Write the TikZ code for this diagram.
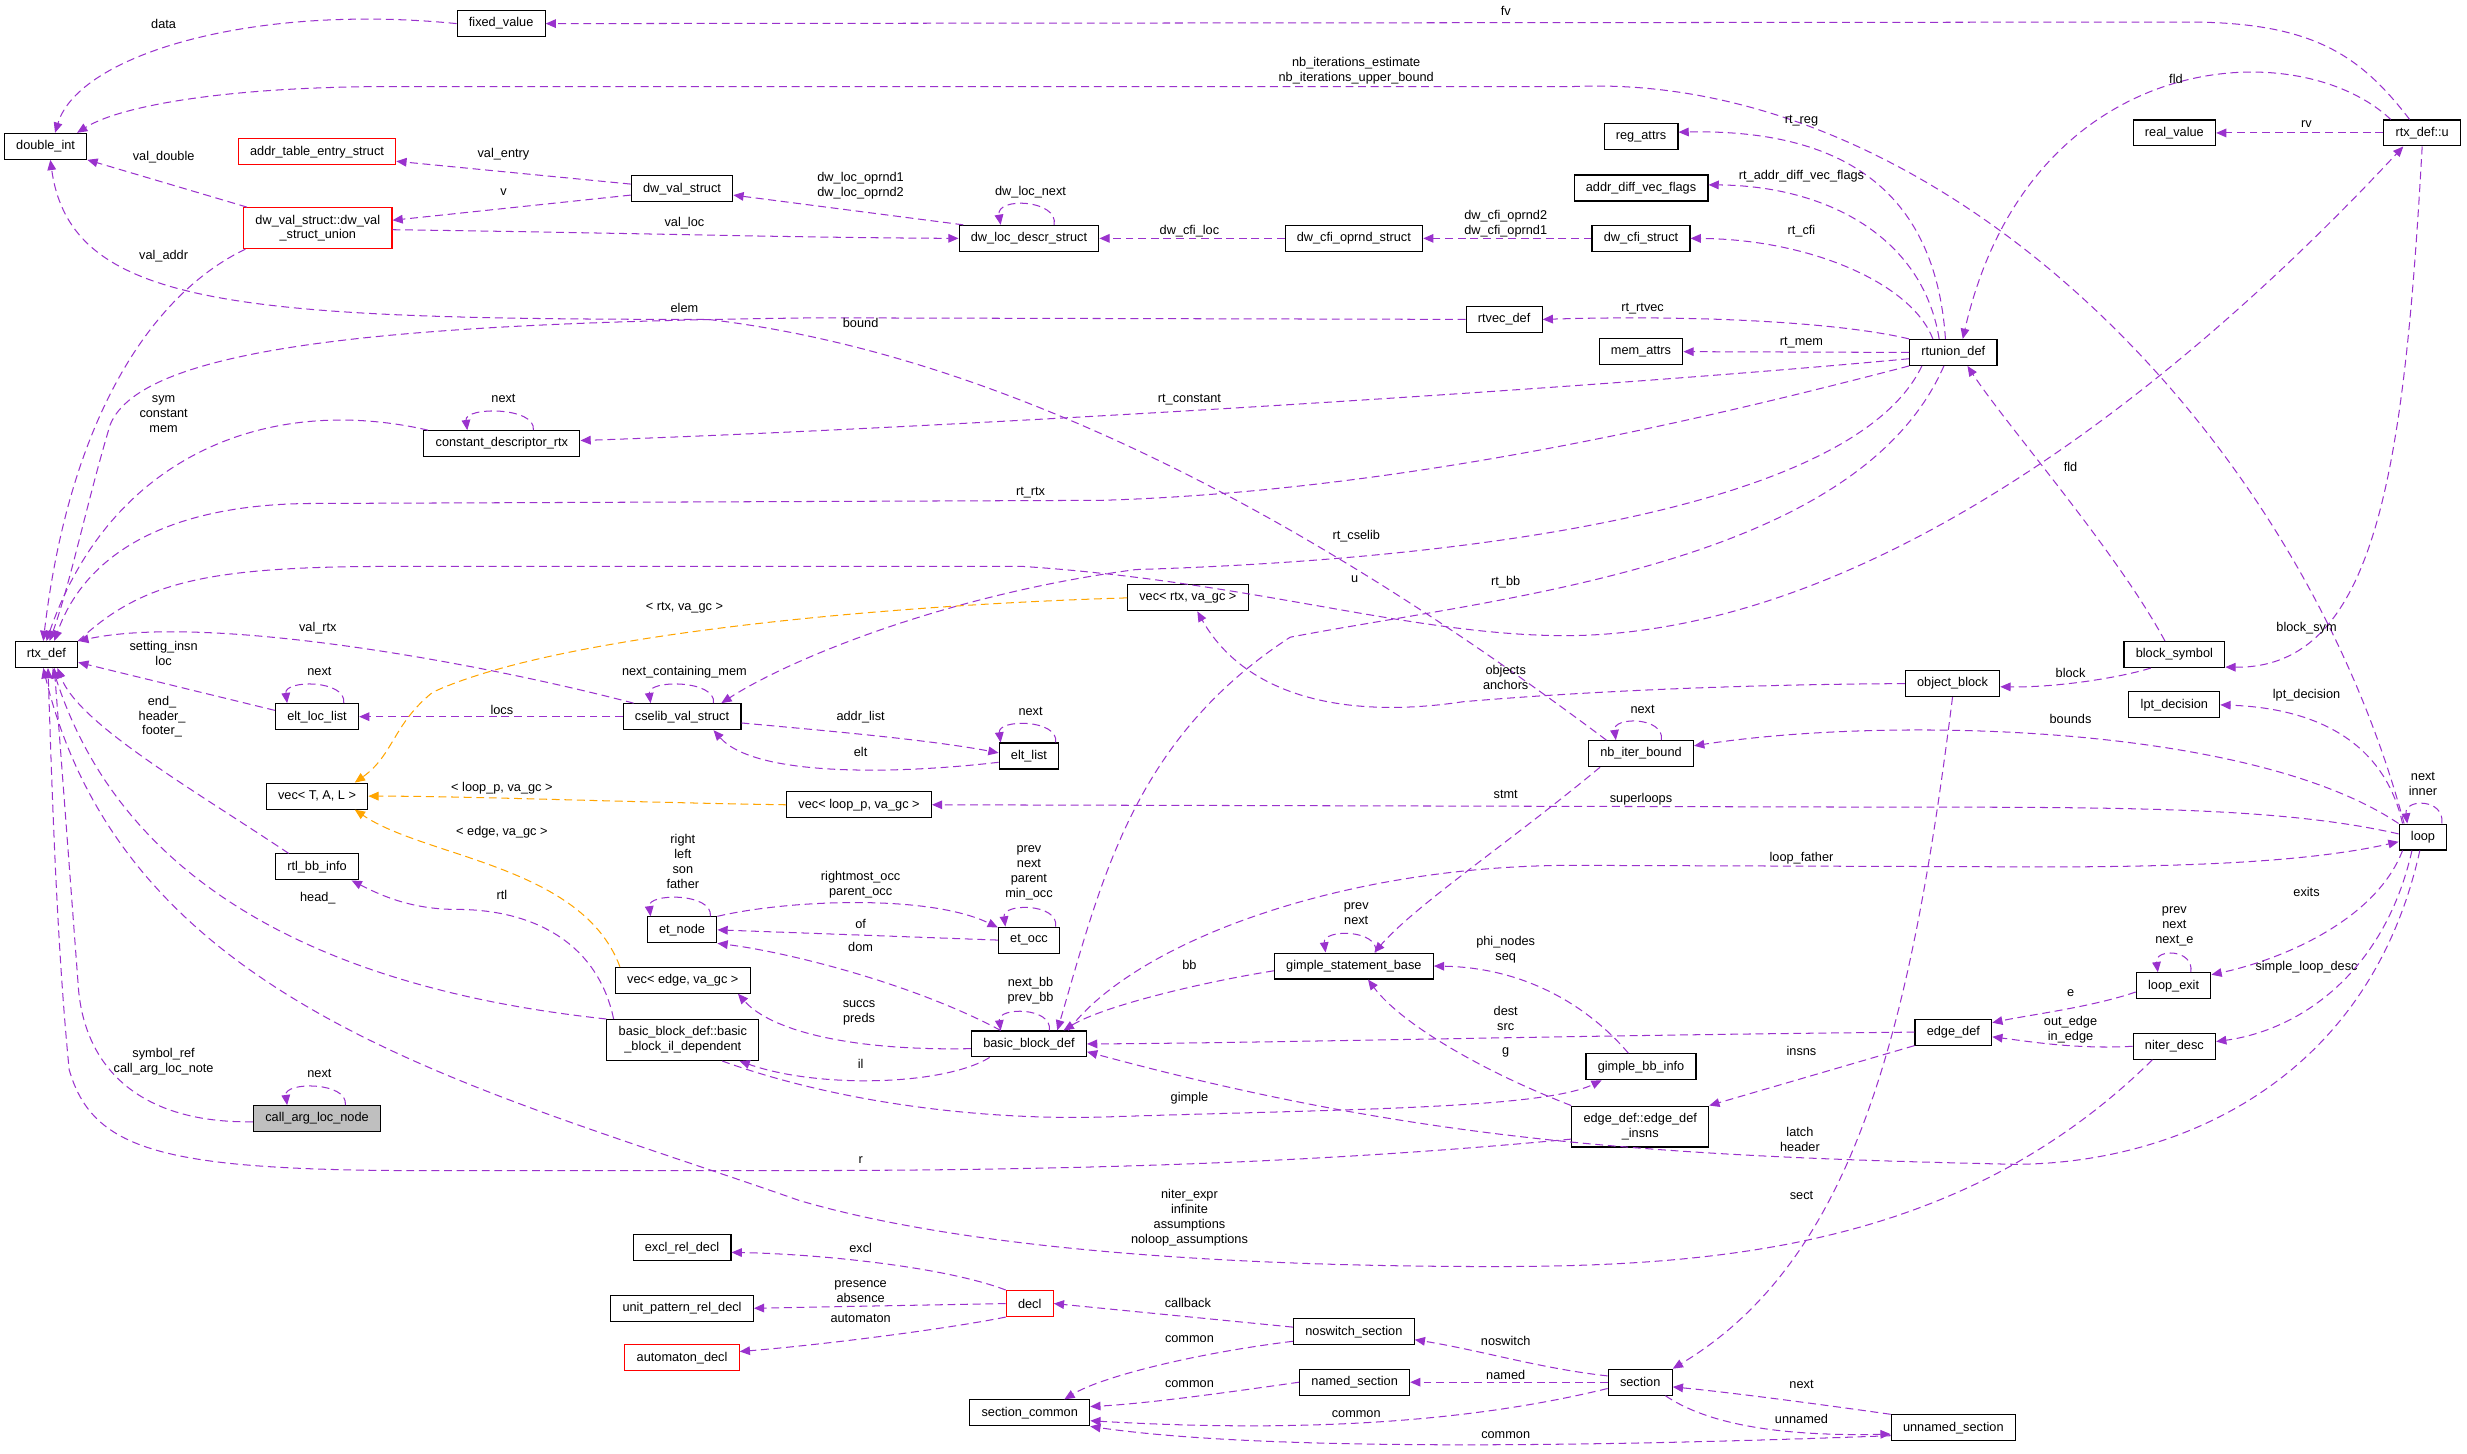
\documentclass[tikz,border=0pt]{standalone}
\usepackage{fontspec}
\setmainfont{Liberation Sans}
\usetikzlibrary{arrows.meta}
\definecolor{membcol}{RGB}{154,50,205}
\definecolor{tmplcol}{RGB}{255,165,0}
\tikzset{
    cls/.style={draw=black, line width=0.7pt, fill=white, inner xsep=7.5pt, inner ysep=0pt,
        minimum height=16.5pt, font=\fontsize{8.1}{9.5}\selectfont},
    clsred/.style={cls, draw=red},
    clsgray/.style={cls, fill=gray!50},
    clstwo/.style={cls, align=center, minimum height=26pt},
    memb/.style={draw=membcol, line width=0.65pt, dash pattern=on 5pt off 3pt,
        -{Triangle[length=6.5pt,width=5.5pt,fill=membcol]}},
    tmpl/.style={memb, draw=tmplcol, -{Triangle[length=6.5pt,width=5.5pt,fill=tmplcol]}},
    lab/.style={font=\fontsize{8.1}{9.5}\selectfont, inner sep=0pt, align=center}
}
\begin{document}
\begin{tikzpicture}[x=1pt, y=-1pt]
    \useasboundingbox (0,0) rectangle (1568,924);
    \fill[white] (0,0) rectangle (1568,924);

    \node[cls] (fixedvalue) at (318.5,15) {fixed\_value};
    \node[cls] (doubleint) at (29,93) {double\_int};
    \node[clsred] (addrtable) at (201.5,96.5) {addr\_table\_entry\_struct};
    \node[cls] (dwval) at (433.5,120) {dw\_val\_struct};
    \node[clstwo, draw=red] (dwvalunion) at (202,145) {dw\_val\_struct::dw\_val\\\_struct\_union};
    \node[cls] (dwlocdescr) at (654,151.5) {dw\_loc\_descr\_struct};
    \node[cls] (dwcfioprnd) at (860.5,151.5) {dw\_cfi\_oprnd\_struct};
    \node[cls] (dwcfi) at (1043,151.5) {dw\_cfi\_struct};
    \node[cls] (regattrs) at (1043,87) {reg\_attrs};
    \node[cls] (addrdiff) at (1043,119.5) {addr\_diff\_vec\_flags};
    \node[cls] (rtvecdef) at (956,203) {rtvec\_def};
    \node[cls] (memattrs) at (1043,223.5) {mem\_attrs};
    \node[cls] (rtunion) at (1241.5,224) {rtunion\_def};
    \node[cls] (realvalue) at (1382,84.5) {real\_value};
    \node[cls] (rtxu) at (1539.5,84.5) {rtx\_def::u};
    \node[cls] (constdesc) at (319,282) {constant\_descriptor\_rtx};
    \node[cls] (rtxdef) at (29.5,416) {rtx\_def};
    \node[cls] (vecrtx) at (755,380) {vec< rtx, va\_gc >};
    \node[cls] (blocksym) at (1382,416) {block\_symbol};
    \node[cls] (objblock) at (1241,434.5) {object\_block};
    \node[cls] (eltloclist) at (201.5,455.5) {elt\_loc\_list};
    \node[cls] (cselib) at (433.5,455.5) {cselib\_val\_struct};
    \node[cls] (lptdec) at (1382,448) {lpt\_decision};
    \node[cls] (nbiter) at (1043,479) {nb\_iter\_bound};
    \node[cls] (eltlist) at (654,480.5) {elt\_list};
    \node[cls] (vectal) at (201.5,506) {vec< T, A, L >};
    \node[cls] (vecloop) at (546,511.5) {vec< loop\_p, va\_gc >};
    \node[cls] (loop) at (1540,532) {loop};
    \node[cls] (rtlbb) at (201.5,551) {rtl\_bb\_info};
    \node[cls] (etnode) at (433.5,591) {et\_node};
    \node[cls] (etocc) at (654,597.5) {et\_occ};
    \node[cls] (gimplestmt) at (860.5,614) {gimple\_statement\_base};
    \node[cls] (loopexit) at (1381.5,626.5) {loop\_exit};
    \node[cls] (vecedge) at (434,623) {vec< edge, va\_gc >};
    \node[clstwo] (bbil) at (434,661) {basic\_block\_def::basic\\\_block\_il\_dependent};
    \node[cls] (bbdef) at (654,663.5) {basic\_block\_def};
    \node[cls] (edgedef) at (1241.5,656) {edge\_def};
    \node[cls] (niterdesc) at (1382,665) {niter\_desc};
    \node[cls] (gimplebb) at (1043,678) {gimple\_bb\_info};
    \node[clstwo] (edgeinsns) at (1042.5,716) {edge\_def::edge\_def\\\_insns};
    \node[clsgray] (callarg) at (201.5,711) {call\_arg\_loc\_node};
    \node[cls] (exclrel) at (433.5,793) {excl\_rel\_decl};
    \node[cls] (unitpat) at (433.5,831.5) {unit\_pattern\_rel\_decl};
    \node[clsred] (decl) at (654.5,828.5) {decl};
    \node[clsred] (automaton) at (433.5,863) {automaton\_decl};
    \node[cls] (noswitch) at (860.5,846.5) {noswitch\_section};
    \node[cls] (named) at (861,878.5) {named\_section};
    \node[cls] (section) at (1042.5,878.5) {section};
    \node[cls] (seccommon) at (654.5,898) {section\_common};
    \node[cls] (unnamed) at (1241.5,907.5) {unnamed\_section};

    \draw[memb] ([xshift=-8pt]rtxu.north) .. controls (1500,35) and (1470,14) .. (1390,14) -- (fixedvalue.east);
    \draw[memb] (fixedvalue.west) .. controls (160,2) and (50,35) .. ([xshift=6pt]doubleint.north);
    \draw[memb] ([xshift=-12pt]loop.north) .. controls (1460,270) and (1230,45) .. (1000,55) -- (250,55) .. controls (140,55) and (75,68) .. ([xshift=20pt]doubleint.north);
    \draw[memb] ([xshift=-45pt]dwvalunion.north) -- (doubleint.south east);
    \draw[memb] ([yshift=3pt]dwval.west) -- ([yshift=-6pt]addrtable.east);
    \draw[memb] ([yshift=-4pt]dwval.west) -- ([yshift=5pt]dwvalunion.east);
    \draw[memb] ([yshift=-1pt]dwvalunion.east) .. controls (400,148) and (500,151) .. (dwlocdescr.west);
    \draw[memb] ([xshift=3pt]dwlocdescr.north west) -- ([yshift=-4pt]dwval.east);
    \draw[memb] ([xshift=16pt]dwlocdescr.north) .. controls +(3,-16) and +(-3,-18) .. ([xshift=-18pt]dwlocdescr.north);
    \draw[memb] (dwcfioprnd.west) -- (dwlocdescr.east);
    \draw[memb] (dwcfi.west) -- (dwcfioprnd.east);
    \draw[memb] ([xshift=-5pt]rtunion.north) .. controls (1230,120) and (1170,82) .. ([yshift=3pt]regattrs.east);
    \draw[memb] ([xshift=-9pt]rtunion.north) .. controls (1222,150) and (1160,118) .. ([yshift=2pt]addrdiff.east);
    \draw[memb] ([xshift=-13pt]rtunion.north) .. controls (1215,180) and (1150,152) .. (dwcfi.east);
    \draw[memb] (rtunion.north west) .. controls (1170,205) and (1080,200) .. (rtvecdef.east);
    \draw[memb] (rtunion.west) -- (memattrs.east);
    \draw[memb] ([yshift=-4pt]rtunion.west) .. controls (1000,248) and (600,272) .. ([yshift=2pt]constdesc.east);
    \draw[memb] (rtunion.south west) .. controls (1100,262) and (900,312) .. (700,318) -- (200,320) .. controls (110,320) and (55,350) .. ([xshift=5pt]rtxdef.north);
    \draw[memb] ([xshift=-20pt]rtunion.south) .. controls (1180,320) and (950,355) .. (722,362) .. controls (600,378) and (500,420) .. ([xshift=25pt]cselib.north);
    \draw[memb] ([xshift=-6pt]rtunion.south) .. controls (1180,360) and (950,380) .. (820,405) .. controls (720,470) and (700,560) .. ([xshift=18pt]bbdef.north);
    \draw[memb] ([xshift=-20pt]rtxu.north) .. controls (1460,20) and (1290,30) .. ([xshift=6pt]rtunion.north);
    \draw[memb] ([xshift=-6pt]blocksym.north) .. controls (1345,350) and (1275,270) .. ([xshift=9pt]rtunion.south);
    \draw[memb] (rtxu.west) -- (realvalue.east);
    \draw[memb] (rtxdef.north east) .. controls (90,370) and (130,360) .. (250,360) -- (650,360) .. controls (800,370) and (900,405) .. (1000,404) .. controls (1200,400) and (1400,230) .. ([xshift=-12pt]rtxu.south);
    \draw[memb] (rtxu.south) .. controls (1528,300) and (1510,425) .. ([yshift=-8pt]blocksym.east);
    \draw[memb] ([xshift=-15pt]blocksym.south) .. controls (1350,430) and (1310,437) .. ([yshift=-2pt]objblock.east);
    \draw[memb] (objblock.west) .. controls (1100,435) and (1000,440) .. (930,446) .. controls (850,458) and (790,440) .. ([xshift=6pt]vecrtx.south);
    \draw[memb] (objblock.south) .. controls (1215,650) and (1180,800) .. (section.north east);
    \draw[memb] (niterdesc.west) .. controls (1320,667) and (1290,662) .. ([yshift=-3pt]edgedef.east);
    \draw[memb] ([yshift=-4pt]loopexit.west) .. controls (1330,640) and (1290,645) .. ([yshift=6pt]edgedef.east);
    \draw[memb] (edgedef.west) .. controls (1000,658) and (800,663) .. (bbdef.east);
    \draw[memb] (edgedef.south west) -- (edgeinsns.north east);
    \draw[memb] (edgeinsns.north west) .. controls (940,680) and (890,650) .. ([xshift=9pt]gimplestmt.south);
    \draw[memb] ([yshift=-8pt]edgeinsns.west) .. controls (850,738) and (700,744) .. (500,744) -- (300,744) .. controls (110,745) and (60,735) .. (44,680) .. controls (36,600) and (33,500) .. ([xshift=1pt]rtxdef.south);
    \draw[memb] ([yshift=-2pt]callarg.west) .. controls (90,714) and (55,680) .. (50,630) .. controls (44,550) and (38,470) .. ([xshift=5pt]rtxdef.south);
    \draw[memb] ([xshift=-18pt]rtlbb.north) .. controls (120,500) and (50,460) .. ([xshift=7pt]rtxdef.south);
    \draw[memb] (bbil.north west) .. controls (220,630) and (80,570) .. ([xshift=4pt]rtxdef.south);
    \draw[memb] ([xshift=-14pt]niterdesc.south) .. controls (1250,790) and (1100,805) .. (950,805) .. controls (750,805) and (600,790) .. (508,763) .. controls (300,690) and (80,640) .. ([xshift=-2pt]rtxdef.south);
    \draw[memb] ([xshift=-2pt]loop.south) .. controls (1505,690) and (1380,740) .. (1280,740) .. controls (1050,735) and (900,725) .. ([yshift=-5pt]bbdef.east);
    \draw[memb] ([xshift=-7pt]loop.south) .. controls (1515,620) and (1460,655) .. ([yshift=3pt]niterdesc.east);
    \draw[memb] ([xshift=-13pt]loop.south) .. controls (1510,585) and (1450,610) .. ([yshift=7pt]loopexit.east);
    \draw[memb] ([xshift=-13pt]loop.north) .. controls (1515,470) and (1470,450) .. (lptdec.east);
    \draw[memb] (loop.north west) .. controls (1430,460) and (1200,455) .. ([yshift=5pt]nbiter.east);
    \draw[memb] ([yshift=2pt]loop.west) .. controls (1450,513) and (1350,513) .. (1200,513) -- (vecloop.east);
    \draw[memb] ([xshift=25pt]bbdef.north) .. controls (720,600) and (850,550) .. (1000,550) -- (1300,551) .. controls (1420,551) and (1480,545) .. ([yshift=-3pt]loop.west);
    \draw[memb] ([yshift=-3pt]gimplestmt.west) .. controls (760,625) and (700,640) .. ([xshift=22pt]bbdef.north);
    \draw[memb] ([xshift=12pt]loop.north) .. controls +(2,-16) and +(-2,-16) .. ([xshift=-10pt]loop.north);
    \draw[memb] ([xshift=11pt]loopexit.north) .. controls +(2,-15) and +(-2,-15) .. ([xshift=-10pt]loopexit.north);
    \draw[memb] ([xshift=-26pt]nbiter.south) .. controls (960,535) and (900,575) .. ([xshift=13pt]gimplestmt.north);
    \draw[memb] ([xshift=13pt]nbiter.north) .. controls +(2,-15) and +(-2,-15) .. ([xshift=-16pt]nbiter.north);
    \draw[memb] ([xshift=-22pt]nbiter.north) .. controls (900,380) and (680,230) .. (450,203) .. controls (150,203) and (45,195) .. ([xshift=3pt]doubleint.south);
    \draw[memb] (rtvecdef.west) -- (520,202) .. controls (250,205) and (90,220) .. (70,270) .. controls (55,320) and (45,370) .. ([xshift=2pt]rtxdef.north);
    \draw[memb] ([xshift=-46pt]dwvalunion.south) .. controls (100,185) and (45,260) .. ([xshift=-2pt]rtxdef.north);
    \draw[memb] ([xshift=3pt]constdesc.north west) .. controls (170,250) and (70,290) .. (rtxdef.north);
    \draw[memb] ([xshift=20pt]constdesc.north) .. controls +(2,-15) and +(-2,-15) .. ([xshift=-22pt]constdesc.north);
    \draw[memb] ([xshift=7pt]cselib.north west) .. controls (300,420) and (130,390) .. (rtxdef.north east);
    \draw[memb] ([yshift=4pt]eltloclist.west) -- ([yshift=-5pt]rtxdef.east);
    \draw[memb] ([xshift=17pt]eltloclist.north) .. controls +(2,-15) and +(-2,-15) .. ([xshift=-19pt]eltloclist.north);
    \draw[memb] (cselib.west) -- (eltloclist.east);
    \draw[memb] ([xshift=20pt]cselib.north) .. controls +(2,-15) and +(-2,-15) .. ([xshift=-20pt]cselib.north);
    \draw[memb] ([yshift=-4pt]cselib.east) .. controls (520,464) and (590,470) .. ([yshift=2pt]eltlist.west);
    \draw[memb] ([yshift=-4pt]eltlist.west) .. controls (570,492) and (480,494) .. ([xshift=20pt]cselib.south);
    \draw[memb] ([xshift=17pt]eltlist.north) .. controls +(2,-15) and +(-2,-15) .. ([xshift=-18pt]eltlist.north);
    \draw[tmpl] (vecrtx.west) .. controls (550,385) and (350,405) .. (275,440) .. controls (250,460) and (250,480) .. ([xshift=24pt]vectal.north);
    \draw[tmpl] (vecloop.west) .. controls (400,510) and (300,506) .. (vectal.east);
    \draw[tmpl] ([xshift=-40pt]vecedge.north) .. controls (370,550) and (270,545) .. ([xshift=24pt]vectal.south);
    \draw[memb] ([xshift=-44pt]bbil.north) .. controls (380,600) and (340,578) .. (290,578) .. controls (260,578) and (240,568) .. ([xshift=22pt]rtlbb.south);
    \draw[memb] ([xshift=-25pt]bbdef.south) .. controls (600,690) and (520,692) .. ([xshift=36pt]bbil.south);
    \draw[memb] ([xshift=25pt]bbil.south) .. controls (530,700) and (620,712) .. (700,710) .. controls (850,705) and (980,705) .. ([xshift=-25pt]gimplebb.south);
    \draw[memb] ([xshift=-8pt]gimplebb.north) .. controls (1010,640) and (970,615) .. (gimplestmt.east);
    \draw[memb] ([xshift=14pt]gimplestmt.north) .. controls +(2,-15) and +(-2,-15) .. ([xshift=-18pt]gimplestmt.north);
    \draw[memb] ([xshift=18pt]etnode.north) .. controls +(2,-15) and +(-2,-15) .. ([xshift=-20pt]etnode.north);
    \draw[memb] (etnode.north east) .. controls (500,572) and (590,568) .. ([yshift=8pt]etocc.west);
    \draw[memb] (etocc.west) -- (etnode.east);
    \draw[memb] ([xshift=-18pt]bbdef.north) .. controls (580,625) and (500,605) .. (etnode.south east);
    \draw[memb] ([yshift=-3pt]bbdef.west) .. controls (540,668) and (490,655) .. ([xshift=35pt]vecedge.south);
    \draw[memb] ([xshift=13pt]bbdef.north) .. controls +(2,-15) and +(-2,-15) .. ([xshift=-18pt]bbdef.north);
    \draw[memb] ([xshift=17pt]etocc.north) .. controls +(2,-15) and +(-2,-15) .. ([xshift=-15pt]etocc.north);
    \draw[memb] ([xshift=18pt]callarg.north) .. controls +(2,-15) and +(-2,-15) .. ([xshift=-19pt]callarg.north);
    \draw[memb] (decl.north west) .. controls (600,805) and (520,797) .. ([yshift=-3pt]exclrel.east);
    \draw[memb] (decl.west) -- (unitpat.east);
    \draw[memb] (decl.south west) .. controls (600,845) and (520,855) .. ([yshift=4pt]automaton.east);
    \draw[memb] ([yshift=3pt]noswitch.west) -- (decl.east);
    \draw[memb] ([yshift=-6pt]noswitch.west) .. controls (760,860) and (700,875) .. ([xshift=22pt]seccommon.north);
    \draw[memb] (named.west) .. controls (780,885) and (730,892) .. ([yshift=4pt]seccommon.east);
    \draw[memb] ([yshift=4pt]section.west) .. controls (980,870) and (940,858) .. ([yshift=-5pt]noswitch.east);
    \draw[memb] (section.west) -- (named.east);
    \draw[memb] ([yshift=-4pt]section.west) .. controls (950,900) and (850,912) .. ([yshift=-5pt]seccommon.east);
    \draw[memb] ([yshift=-5pt]unnamed.west) .. controls (1000,920) and (800,922) .. (seccommon.south east);
    \draw[memb] (unnamed.north west) .. controls (1160,893) and (1100,885) .. ([yshift=-3pt]section.east);
    \draw[memb] ([xshift=16pt]section.south) .. controls (1085,905) and (1130,913) .. ([yshift=-4pt]unnamed.west);

    \node[lab] (l-fv) at (957,7) {fv};
    \node[lab] (l-data) at (104,15) {data};
    \node[lab] (l-nbit) at (862,45) {nb\_iterations\_estimate\\nb\_iterations\_upper\_bound};
    \node[lab] (l-valdouble) at (104,100) {val\_double};
    \node[lab] (l-valentry) at (320,98) {val\_entry};
    \node[lab] (l-v) at (320,122) {v};
    \node[lab] (l-valloc) at (435,142) {val\_loc};
    \node[lab] (l-valaddr) at (104,163) {val\_addr};
    \node[lab] (l-oprnd) at (547,118) {dw\_loc\_oprnd1\\dw\_loc\_oprnd2};
    \node[lab] (l-locnext) at (655,122) {dw\_loc\_next};
    \node[lab] (l-cfiloc) at (756,147) {dw\_cfi\_loc};
    \node[lab] (l-cfioprnd) at (957,142) {dw\_cfi\_oprnd2\\dw\_cfi\_oprnd1};
    \node[lab] (l-rtreg) at (1145,77) {rt\_reg};
    \node[lab] (l-rtaddr) at (1145,112) {rt\_addr\_diff\_vec\_flags};
    \node[lab] (l-rtcfi) at (1145,147) {rt\_cfi};
    \node[lab] (l-rtrtvec) at (1044,196) {rt\_rtvec};
    \node[lab] (l-rtmem) at (1145,218) {rt\_mem};
    \node[lab] (l-fld1) at (1383,50) {fld};
    \node[lab] (l-rv) at (1466,79) {rv};
    \node[lab] (l-elem) at (435,196) {elem};
    \node[lab] (l-bound) at (547,205) {bound};
    \node[lab] (l-rtconst) at (756,254) {rt\_constant};
    \node[lab] (l-sym) at (104,263) {sym\\constant\\mem};
    \node[lab] (l-cdnext) at (320,253) {next};
    \node[lab] (l-fld2) at (1316,297) {fld};
    \node[lab] (l-rtrtx) at (655,313) {rt\_rtx};
    \node[lab] (l-rtcselib) at (862,341) {rt\_cselib};
    \node[lab] (l-u) at (861,368) {u};
    \node[lab] (l-rtbb) at (957,370) {rt\_bb};
    \node[lab] (l-rtxva) at (435,386) {< rtx, va\_gc >};
    \node[lab] (l-blocksym) at (1466,399) {block\_sym};
    \node[lab] (l-valrtx) at (202,399) {val\_rtx};
    \node[lab] (l-setting) at (104,415.5) {setting\_insn\\loc};
    \node[lab] (l-objects) at (957,430.5) {objects\\anchors};
    \node[lab] (l-block) at (1316,428) {block};
    \node[lab] (l-elnext) at (203,427) {next};
    \node[lab] (l-nextcm) at (435,427) {next\_containing\_mem};
    \node[lab] (l-lptdec) at (1466,442) {lpt\_decision};
    \node[lab] (l-addrlist) at (547,456) {addr\_list};
    \node[lab] (l-locs) at (319,451) {locs};
    \node[lab] (l-end) at (103,455.5) {end\_\\header\_\\footer\_};
    \node[lab] (l-eltnext) at (655,452) {next};
    \node[lab] (l-nbnext) at (1044,451) {next};
    \node[lab] (l-bounds) at (1316,457) {bounds};
    \node[lab] (l-elt) at (547,478) {elt};
    \node[lab] (l-loopnext) at (1540,498.5) {next\\inner};
    \node[lab] (l-loopva) at (319,501) {< loop\_p, va\_gc >};
    \node[lab] (l-stmt) at (957,505) {stmt};
    \node[lab] (l-superloops) at (1043,508) {superloops};
    \node[lab] (l-edgeva) at (319,529) {< edge, va\_gc >};
    \node[lab] (l-loopfather) at (1145,545.5) {loop\_father};
    \node[lab] (l-etnode) at (434,547.5) {right\\left\\son\\father};
    \node[lab] (l-etocc) at (654,554.5) {prev\\next\\parent\\min\_occ};
    \node[lab] (l-rightmost) at (547,562) {rightmost\_occ\\parent\_occ};
    \node[lab] (l-exits) at (1466,567) {exits};
    \node[lab] (l-rtl) at (319,569) {rtl};
    \node[lab] (l-head) at (202,571) {head\_};
    \node[lab] (l-gsbnext) at (862,580.5) {prev\\next};
    \node[lab] (l-lexit) at (1382,589) {prev\\next\\next\_e};
    \node[lab] (l-of) at (547,587) {of};
    \node[lab] (l-phi) at (957,603.5) {phi\_nodes\\seq};
    \node[lab] (l-dom) at (547,602) {dom};
    \node[lab] (l-bb) at (756,613) {bb};
    \node[lab] (l-simple) at (1466,615) {simple\_loop\_desc};
    \node[lab] (l-nextbb) at (655,629.5) {next\_bb\\prev\_bb};
    \node[lab] (l-e) at (1316,631) {e};
    \node[lab] (l-succs) at (546,643.5) {succs\\preds};
    \node[lab] (l-dest) at (957,647.5) {dest\\src};
    \node[lab] (l-outedge) at (1316,654.5) {out\_edge\\in\_edge};
    \node[lab] (l-insns) at (1145,668) {insns};
    \node[lab] (l-g) at (957,669) {g};
    \node[lab] (l-il) at (547,676) {il};
    \node[lab] (l-canext) at (203,682) {next};
    \node[lab] (l-symref) at (104,675) {symbol\_ref\\call\_arg\_loc\_note};
    \node[lab] (l-gimple) at (756,698) {gimple};
    \node[lab] (l-latch) at (1144,724) {latch\\header};
    \node[lab] (l-r) at (547,737) {r};
    \node[lab] (l-sect) at (1145,760) {sect};
    \node[lab] (l-niter) at (756,774) {niter\_expr\\infinite\\assumptions\\noloop\_assumptions};
    \node[lab] (l-excl) at (547,793) {excl};
    \node[lab] (l-presence) at (547,821) {presence\\absence};
    \node[lab] (l-callback) at (755,828) {callback};
    \node[lab] (l-automaton) at (547,838) {automaton};
    \node[lab] (l-common1) at (756,851) {common};
    \node[lab] (l-noswitch) at (957,852) {noswitch};
    \node[lab] (l-named) at (957,874) {named};
    \node[lab] (l-common2) at (756,880) {common};
    \node[lab] (l-next) at (1145,880) {next};
    \node[lab] (l-common3) at (862,899) {common};
    \node[lab] (l-unnamed) at (1145,902) {unnamed};
    \node[lab] (l-common4) at (957,912) {common};
\end{tikzpicture}
\end{document}
